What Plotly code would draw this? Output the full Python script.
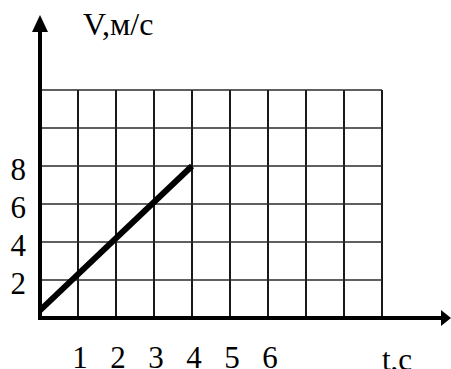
import plotly.graph_objects as go

# Speed vs time data
t_vals = [0, 4]
v_vals = [0.4, 8]

# Axis tick labels
t_ticks = [1, 2, 3, 4, 5, 6]
v_ticks = [2, 4, 6, 8]

# Grid extent (cells of 1 s by 2 m/s)
T_MAX = 9
V_MAX = 12
V_STEP = 2

W, H = 451, 369
PX_T = 38.0   # pixels per second
PX_V = 19.0   # pixels per m/s
ORIGIN_X = 40  # pixel column of t = 0
ORIGIN_Y = 318  # pixel row of v = 0

FONT = "Liberation Serif"
FS = 31

fig = go.Figure()

fig.add_trace(go.Scatter(
    x=t_vals, y=v_vals, mode="lines",
    line=dict(color="black", width=6),
    hoverinfo="skip", showlegend=False,
))

shapes = []
# vertical grid lines
for t in range(1, T_MAX + 1):
    shapes.append(dict(type="line", xref="x", yref="y", x0=t, x1=t, y0=0, y1=V_MAX,
                       line=dict(color="black", width=1.8), layer="below"))
# horizontal grid lines
for v in range(V_STEP, V_MAX + 1, V_STEP):
    shapes.append(dict(type="line", xref="x", yref="y", x0=0, x1=T_MAX, y0=v, y1=v,
                       line=dict(color="#2a2a2a", width=1.4), layer="below"))

# axis lines
shapes.append(dict(type="line", xref="x", yref="y", x0=0, x1=0, y0=-0.1, y1=15.2,
                   line=dict(color="black", width=4)))
shapes.append(dict(type="line", xref="x", yref="y", x0=-0.05, x1=10.6, y0=0, y1=0,
                   line=dict(color="black", width=4)))
# arrowheads (pixel-sized, anchored at the origin)
shapes.append(dict(type="path", xref="x", yref="y", xsizemode="pixel", ysizemode="pixel",
                   xanchor=0, yanchor=0,
                   path="M 0 303 L -8 286 L 8 286 Z",
                   fillcolor="black", line=dict(width=0)))
shapes.append(dict(type="path", xref="x", yref="y", xsizemode="pixel", ysizemode="pixel",
                   xanchor=0, yanchor=0,
                   path="M 411 0 L 401 8 L 401 -8 Z",
                   fillcolor="black", line=dict(width=0)))

annotations = [
    dict(text="V,м/с", xref="x", yref="y", x=1.08, y=15.5, xanchor="left", yanchor="middle",
         showarrow=False, font=dict(family=FONT, size=FS + 1, color="black")),
    dict(text="t,c", xref="x", yref="y", x=9.39, y=-2.2, xanchor="center", yanchor="middle",
         showarrow=False, font=dict(family=FONT, size=FS, color="black")),
]

fig.update_layout(
    width=W, height=H,
    margin=dict(l=0, r=0, t=0, b=0),
    template="none",
    paper_bgcolor="white", plot_bgcolor="white",
    shapes=shapes, annotations=annotations,
    showlegend=False, hovermode=False,
    xaxis=dict(
        range=[-ORIGIN_X / PX_T, (W - ORIGIN_X) / PX_T],
        anchor="free", position=(H - ORIGIN_Y) / H,
        showgrid=False, zeroline=False, showline=False, ticks="",
        tickvals=t_ticks, ticktext=[str(t) for t in t_ticks],
        tickfont=dict(family=FONT, size=FS, color="black"),
        ticklabelstandoff=18, ticklabelshift=2, automargin=False, fixedrange=True,
    ),
    yaxis=dict(
        range=[-(H - ORIGIN_Y) / PX_V, ORIGIN_Y / PX_V],
        anchor="free", position=ORIGIN_X / W,
        showgrid=False, zeroline=False, showline=False, ticks="",
        tickvals=v_ticks, ticktext=[str(v) for v in v_ticks],
        tickfont=dict(family=FONT, size=FS, color="black"),
        ticklabelstandoff=14, ticklabelshift=3, automargin=False, fixedrange=True,
    ),
)

fig.write_html("out.html", config={"displayModeBar": False, "staticPlot": True})
